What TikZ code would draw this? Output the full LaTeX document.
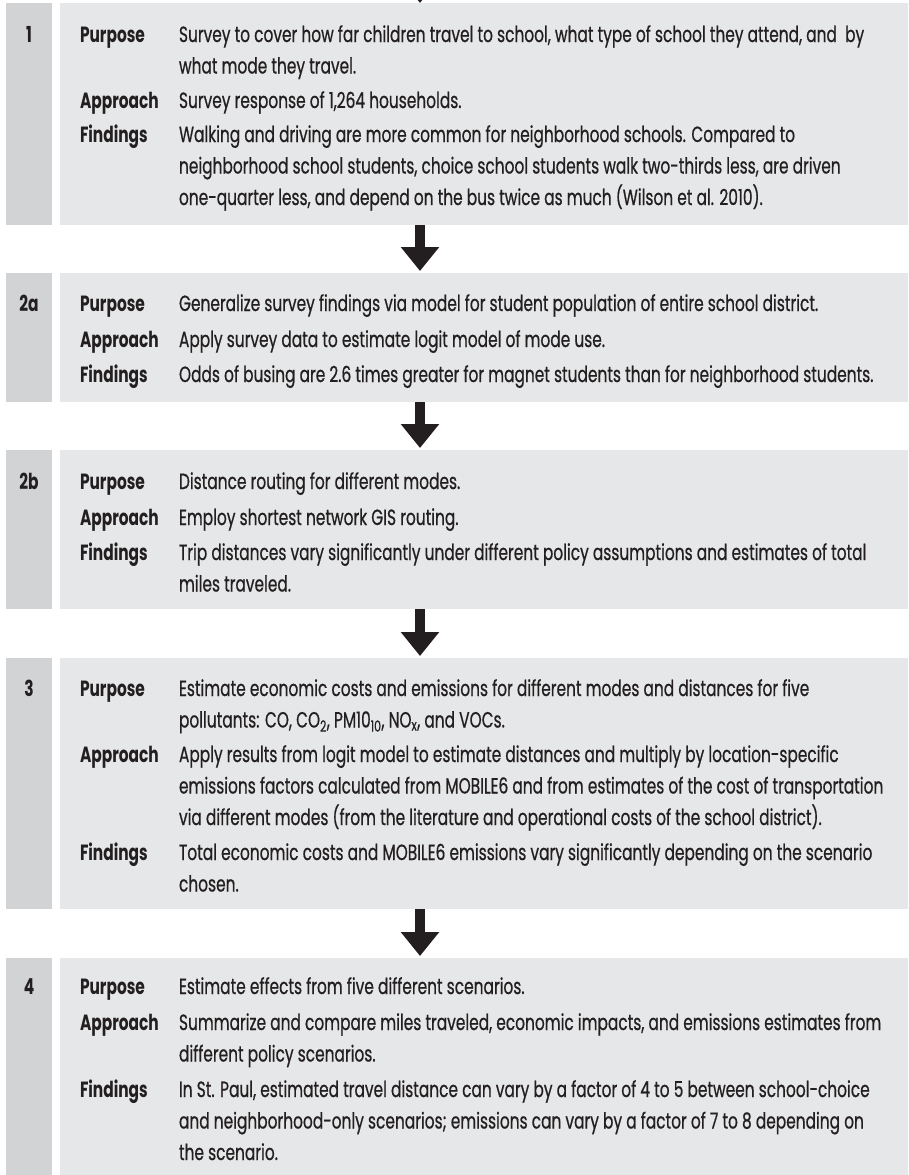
\documentclass[tikz,border=0pt]{standalone}
\usepackage{fontspec}
\setmainfont{Poppins}[FakeStretch=0.70, FakeBold=0.6, BoldFeatures={FakeStretch=0.7,FakeBold=0}]
\usetikzlibrary{arrows.meta}
\definecolor{boxgray}{RGB}{230,231,232}
\definecolor{stripgray}{RGB}{209,211,212}
\definecolor{ink}{RGB}{35,31,32}
\begin{document}
\begin{tikzpicture}[x=1pt,y=-1pt,
  every node/.style={font=\fontsize{22}{31.5}\selectfont, text=ink, inner sep=0pt, outer sep=0pt},
  bodybox/.style={fill=boxgray, anchor=north west, minimum width=848pt},
  numstrip/.style={fill=stripgray, anchor=north west, minimum width=46pt},
  rowlabel/.style={anchor=base west, font=\fontsize{22}{31.5}\selectfont\bfseries},
  rowtext/.style={anchor=base west},
  stepnum/.style={anchor=base, font=\fontsize{22}{31.5}\selectfont\bfseries},
  flowarrow/.style={draw=ink, line width=10pt, -{Triangle[width=37pt,length=24pt]}, shorten >=2pt}]
\useasboundingbox (0,0) rectangle (908,1175);
\clip (0,0) rectangle (908,1175);
\fill[white] (0,0) rectangle (908,1175);
\coordinate (ax) at (420,0);
\coordinate (topin) at (420,-40);

% ---- Step 1
\node[numstrip, minimum height=222pt] (s1) at (6,3) {};
\node[bodybox, minimum height=222pt] (b1) at (60,3) {};
\node[stepnum] (n1) at (29,42) {1};
\node[rowlabel] (p1) at (80,42) {Purpose};
\node[rowtext] (tp1) at (179,42) {\vtop{\hbox{Survey to cover how far children travel to school, what type of school they attend, and \ by}\hbox{what mode they travel.}}};
\node[rowlabel] (a1) at (80,108) {Approach};
\node[rowtext] (ta1) at (179,108) {Survey response of 1,264 households.};
\node[rowlabel] (f1) at (80,142) {Findings};
\node[rowtext] (tf1) at (179,142) {\vtop{\hbox{Walking and driving are more common for neighborhood schools. Compared to}\hbox{neighborhood school students, choice school students walk two-thirds less, are driven}\hbox{one-quarter less, and depend on the bus twice as much (Wilson et al. 2010).}}};

% ---- Step 2a
\node[numstrip, minimum height=129pt] (s2a) at (6,273) {};
\node[bodybox, minimum height=129pt] (b2a) at (60,273) {};
\node[stepnum] (n2a) at (29,311) {2a};
\node[rowlabel] (p2a) at (80,311) {Purpose};
\node[rowtext] (tp2a) at (179,311) {Generalize survey findings via model for student population of entire school district.};
\node[rowlabel] (a2a) at (80,347) {Approach};
\node[rowtext] (ta2a) at (179,347) {Apply survey data to estimate logit model of mode use.};
\node[rowlabel] (f2a) at (80,382) {Findings};
\node[rowtext] (tf2a) at (179,382) {Odds of busing are 2.6 times greater for magnet students than for neighborhood students.};

% ---- Step 2b
\node[numstrip, minimum height=159pt] (s2b) at (6,450) {};
\node[bodybox, minimum height=159pt] (b2b) at (60,450) {};
\node[stepnum] (n2b) at (29,489) {2b};
\node[rowlabel] (p2b) at (80,489) {Purpose};
\node[rowtext] (tp2b) at (179,489) {Distance routing for different modes.};
\node[rowlabel] (a2b) at (80,525) {Approach};
\node[rowtext] (ta2b) at (179,525) {Employ shortest network GIS routing.};
\node[rowlabel] (f2b) at (80,560) {Findings};
\node[rowtext] (tf2b) at (179,560) {\vtop{\hbox{Trip distances vary significantly under different policy assumptions and estimates of total}\hbox{miles traveled.}}};

% ---- Step 3
\node[numstrip, minimum height=251pt] (s3) at (6,658) {};
\node[bodybox, minimum height=251pt] (b3) at (60,658) {};
\node[stepnum] (n3) at (29,696) {3};
\node[rowlabel] (p3) at (80,696) {Purpose};
\node[rowtext] (tp3) at (179,696) {\vtop{\hbox{Estimate economic costs and emissions for different modes and distances for five}\hbox{pollutants: CO, CO\textsubscript{2}, PM10\textsubscript{10}, NO\textsubscript{x}, and VOCs.}}};
\node[rowlabel] (a3) at (80,762) {Approach};
\node[rowtext] (ta3) at (179,762) {\vtop{\hbox{Apply results from logit model to estimate distances and multiply by location-specific}\hbox{emissions factors calculated from MOBILE6 and from estimates of the cost of transportation}\hbox{via different modes (from the literature and operational costs of the school district).}}};
\node[rowlabel] (f3) at (80,860) {Findings};
\node[rowtext] (tf3) at (179,860) {\vtop{\hbox{Total economic costs and MOBILE6 emissions vary significantly depending on the scenario}\hbox{chosen.}}};

% ---- Step 4
\node[numstrip, minimum height=217pt] (s4) at (6,958) {};
\node[bodybox, minimum height=217pt] (b4) at (60,958) {};
\node[stepnum] (n4) at (29,994) {4};
\node[rowlabel] (p4) at (80,994) {Purpose};
\node[rowtext] (tp4) at (179,994) {Estimate effects from five different scenarios.};
\node[rowlabel] (a4) at (80,1030) {Approach};
\node[rowtext] (ta4) at (179,1030) {\vtop{\hbox{Summarize and compare miles traveled, economic impacts, and emissions estimates from}\hbox{different policy scenarios.}}};
\node[rowlabel] (f4) at (80,1097) {Findings};
\node[rowtext] (tf4) at (179,1097) {\vtop{\hbox{In St. Paul, estimated travel distance can vary by a factor of 4 to 5 between school-choice}\hbox{and neighborhood-only scenarios; emissions can vary by a factor of 7 to 8 depending on}\hbox{the scenario.}}};

% ---- Arrows
\draw[flowarrow, shorten >=0pt] (topin) -- (b1.north -| ax);
\draw[flowarrow] (b1.south -| ax) -- (b2a.north -| ax);
\draw[flowarrow] (b2a.south -| ax) -- (b2b.north -| ax);
\draw[flowarrow] (b2b.south -| ax) -- (b3.north -| ax);
\draw[flowarrow] (b3.south -| ax) -- (b4.north -| ax);
\end{tikzpicture}
\end{document}
